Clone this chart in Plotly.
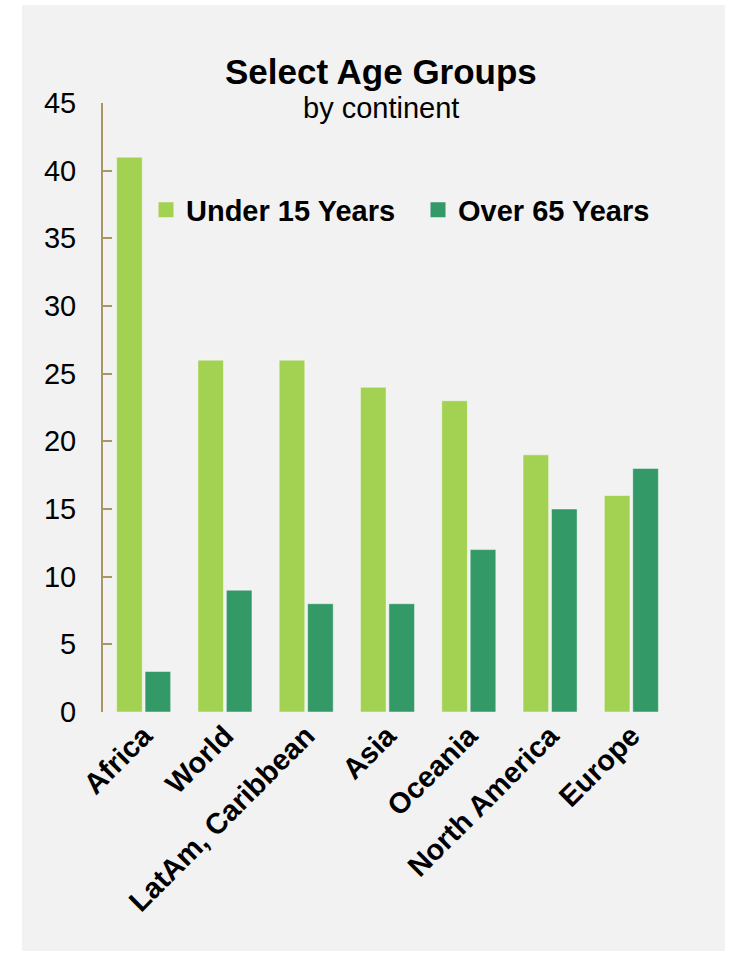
import plotly.graph_objects as go

categories = ["Africa", "World", "LatAm, Caribbean", "Asia", "Oceania", "North America", "Europe"]
under15 = [41, 26, 26, 24, 23, 19, 16]
over65 = [3, 9, 8, 8, 12, 15, 18]
y_ticks = [0, 5, 10, 15, 20, 25, 30, 35, 40, 45]
series_names = ["Under 15 Years", "Over 65 Years"]
colors = ["#a3d151", "#339966"]

W, H = 731, 953
L, R, T, B = 103, 59, 103, 241
FONT = "Liberation Sans, Arial"

fig = go.Figure()
for name, vals, col in zip(series_names, [under15, over65], colors):
    fig.add_trace(go.Bar(x=categories, y=vals, name=name, showlegend=False,
                         marker=dict(color=col, line=dict(color="rgba(255,255,255,0.45)", width=1))))
# legend entries with larger square symbols
for name, col in zip(series_names, colors):
    fig.add_trace(go.Scatter(x=[None], y=[None], mode="markers", name="<b>" + name + "</b>",
                             marker=dict(symbol="square", size=15, color=col)))

pw = W - L - R
ph = H - T - B
fig.add_shape(type="rect", xref="paper", yref="paper", layer="below",
              x0=(22 - L) / pw, x1=(725 - L) / pw,
              y0=(H - B - 951) / ph, y1=(H - B - 5) / ph,
              fillcolor="#f2f2f2", line=dict(width=0))

fig.add_annotation(text="<b>Select Age Groups</b>", xref="paper", yref="paper",
                   x=(381 - L) / pw, y=(H - B - 71) / ph, xanchor="center", yanchor="middle",
                   showarrow=False, font=dict(size=35, color="black", family=FONT))
fig.add_annotation(text="by continent", xref="paper", yref="paper",
                   x=(381 - L) / pw, y=(H - B - 108) / ph, xanchor="center", yanchor="middle",
                   showarrow=False, font=dict(size=29, color="black", family=FONT))

fig.update_layout(
    width=W, height=H,
    margin=dict(l=L, r=R, t=T, b=B),
    paper_bgcolor="white", plot_bgcolor="rgba(0,0,0,0)",
    barmode="group", bargap=0.3, bargroupgap=0.1,
    font=dict(family=FONT, color="black"),
    showlegend=True,
    legend=dict(orientation="h", x=(146 - L) / pw, xanchor="left", y=(H - B - 210) / ph, yanchor="middle",
                font=dict(size=29, color="black"), bgcolor="rgba(0,0,0,0)", itemwidth=30,
                entrywidth=227, entrywidthmode="pixels", traceorder="normal"),
)

fig.update_yaxes(range=[0, 45], tickvals=y_ticks, showgrid=False, zeroline=False,
                 showline=True, linecolor="#a89663", linewidth=2,
                 ticks="inside", ticklen=9, tickwidth=2, tickcolor="#a89663",
                 tickfont=dict(size=29, color="black"), ticklabelstandoff=19)
fig.update_xaxes(showgrid=False, showline=False, ticks="", tickangle=-45,
                 tickfont=dict(size=29, color="black"),
                 tickvals=categories, ticktext=["<b>" + c + "</b>" for c in categories])

fig.write_html("out.html")
